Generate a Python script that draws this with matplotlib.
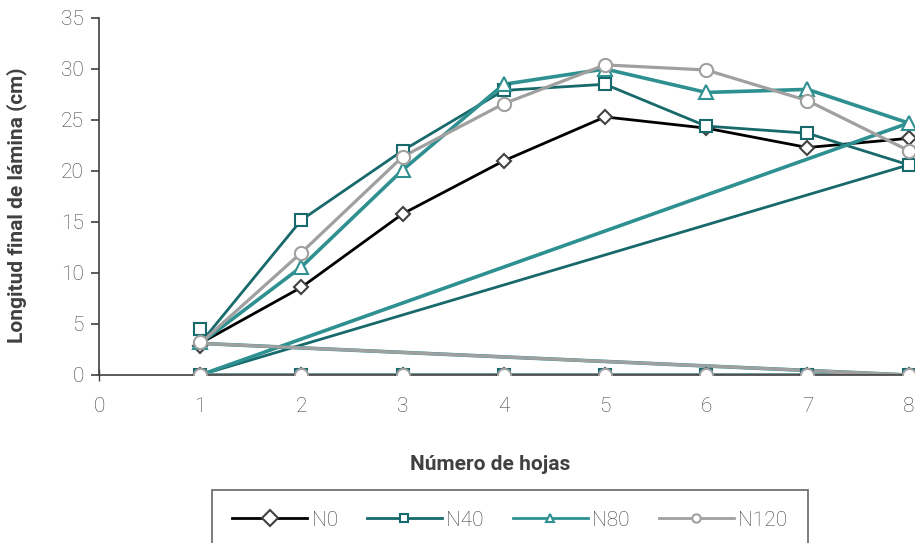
import matplotlib.pyplot as plt
from matplotlib.lines import Line2D

# leaf length per leaf number, four N doses
leaf = [1, 2, 3, 4, 5, 6, 7, 8]
n0 = [2.8, 8.6, 15.8, 21.0, 25.3, 24.2, 22.3, 23.2]
n40 = [4.5, 15.2, 22.0, 27.9, 28.5, 24.4, 23.7, 20.6]
n80 = [3.2, 10.6, 20.1, 28.5, 30.0, 27.7, 28.0, 24.7]
n120 = [3.2, 12.0, 21.4, 26.6, 30.4, 29.9, 26.9, 22.0]
zeros = [0, 0, 0, 0, 0, 0, 0, 0]
line_start = 3.1  # all the lines leave leaf 1 from this common point
labels = ['N0', 'N40', 'N80', 'N120']

c0 = '#000000'
c0m = '#404040'
c40 = '#17696b'
c80 = '#2e9090'
c120 = '#a0a0a0'
txt = '#404040'
tickc = '#404040'

plt.rcParams['font.family'] = ['Roboto', 'DejaVu Sans']

fig = plt.figure(figsize=(9.15, 5.43), dpi=100)
ax = fig.add_axes([0.1082, 0.3094, 0.907, 0.6575])

lw = 2.0
# line paths (the excel series wander back along zero)
ax.plot(leaf, [line_start] + n0[1:], color=c0, lw=lw, zorder=2)
ax.plot(leaf + leaf, [line_start] + n40[1:] + zeros, color=c40, lw=lw, zorder=2)
ax.plot(leaf + leaf + leaf, zeros + [line_start] + n80[1:] + zeros, color=c80, lw=lw + 0.6, zorder=2)
ax.plot(leaf + leaf, zeros + [line_start] + n120[1:], color=c120, lw=lw + 0.3, zorder=2)

# markers
mk = dict(ls='none', markerfacecolor='white', markeredgewidth=1.5, zorder=3)
styles = [(n0, 'D', 7, c0m), (n40, 's', 9, c40), (n80, '^', 9.5, c80), (n120, 'o', 9.5, c120)]
for vals, m, ms, ec in styles:
    ax.plot(leaf, zeros, marker=m, ms=ms, markeredgecolor=ec, **mk)
for vals, m, ms, ec in styles:
    ax.plot(leaf, vals, marker=m, ms=ms, markeredgecolor=ec, **mk)

ax.set_xlim(0, 8.2)
ax.set_ylim(0, 35)
ax.set_xticks(range(0, 9))
ax.set_yticks(range(0, 36, 5))
for s in ['top', 'right']:
    ax.spines[s].set_visible(False)
ax.spines['left'].set_color(c0m)
ax.spines['bottom'].set_color(c0m)
ax.spines['left'].set_linewidth(1.2)
ax.spines['bottom'].set_linewidth(1.2)
ax.tick_params(axis='y', direction='out', length=6, width=1.2, color=c0m, labelsize=15,
               labelcolor=tickc, pad=5)
ax.tick_params(axis='x', direction='inout', length=8, width=1, color=c0m, labelsize=15,
               labelcolor=tickc, pad=12)
for t in ax.get_xticklabels() + ax.get_yticklabels():
    t.set_fontweight('light')
for i, t in enumerate(ax.xaxis.get_major_ticks()):
    if i > 0:
        t.tick1line.set_visible(False)

ax.set_ylabel('Longitud final de lámina (cm)', fontsize=15, fontweight='bold', color=txt)
ax.set_xlabel('Número de hojas', fontsize=15, fontweight='bold', color=txt)
ax.yaxis.set_label_coords(-0.087, 0.475)
ax.xaxis.set_label_coords(0.471, -0.225)

hands = [
    Line2D([], [], color=c0, lw=lw, marker='D', ms=8, markerfacecolor='white', markeredgecolor=c0m, markeredgewidth=1.5),
    Line2D([], [], color=c40, lw=lw, marker='s', ms=6, markerfacecolor='white', markeredgecolor=c40, markeredgewidth=1.5),
    Line2D([], [], color=c80, lw=lw, marker='^', ms=6, markerfacecolor='white', markeredgecolor=c80, markeredgewidth=1.5),
    Line2D([], [], color=c120, lw=lw, marker='o', ms=6, markerfacecolor='white', markeredgecolor=c120, markeredgewidth=1.5),
]
lgd = fig.legend(hands, labels, loc='upper center', bbox_to_anchor=(0.557, 0.098), ncol=4,
                 fontsize=15, frameon=True, fancybox=False, borderpad=1.0, handlelength=3.6,
                 handletextpad=0.2, columnspacing=1.4, borderaxespad=0)
lgd.get_frame().set_edgecolor(c0m)
lgd.get_frame().set_linewidth(1.2)
for t in lgd.get_texts():
    t.set_color(tickc)
    t.set_fontweight('light')

fig.savefig('out.png', dpi=100)
